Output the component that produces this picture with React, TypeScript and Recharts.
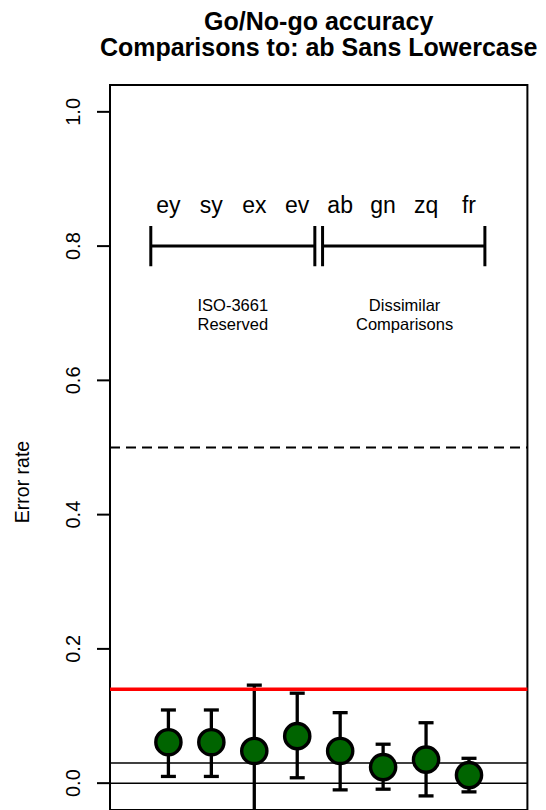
import React from 'react';
import {
  ComposedChart,
  Scatter,
  ErrorBar,
  XAxis,
  YAxis,
  ReferenceLine,
  ReferenceArea,
} from 'recharts';

// Comparison pairs, plotted at positions 1..8
const codes = ['ey', 'sy', 'ex', 'ev', 'ab', 'gn', 'zq', 'fr'];
const positions = [1, 2, 3, 4, 5, 6, 7, 8];

// Mean error rate and 95% interval for each comparison
const errorRate = [0.061, 0.061, 0.048, 0.07, 0.048, 0.024, 0.035, 0.012];
const ciLow = [0.01, 0.01, -0.05, 0.008, -0.01, -0.009, -0.019, -0.013];
const ciHigh = [0.109, 0.109, 0.146, 0.134, 0.105, 0.058, 0.09, 0.037];

const yTicks = [0, 0.2, 0.4, 0.6, 0.8, 1.0];

// Reference levels
const chanceLevel = 0.5;
const thresholdRate = 0.14;
const baselineRate = 0.03;
const zeroRate = 0;

// Group brackets
const groupNames = [
  ['ISO-3661', 'Reserved'],
  ['Dissimilar', 'Comparisons'],
];
const groupFrom = [0.59, 4.59];
const groupTo = [4.41, 8.37];
const groupCenter = [2.5, 6.5];
const bracketLevel = 0.8;
const bracketTick = 0.03;
const codeLabelLevel = 0.849;
const groupLabelLevel = 0.703;

const FONT = '"Liberation Sans", Arial, Helvetica, sans-serif';

const points = positions.map((x, i) => ({
  x,
  y: errorRate[i],
  err: [errorRate[i] - ciLow[i], ciHigh[i] - errorRate[i]],
}));

const codeLabels = positions.map((x, i) => ({ x, y: codeLabelLevel, label: codes[i] }));

const groupLabels = groupCenter.map((x, i) => ({ x, y: groupLabelLevel, lines: groupNames[i] }));

const YTick = (props: any) => {
  const { x, y, payload } = props;
  const bx = x - 15;
  return (
    <text
      x={bx}
      y={y}
      transform={`rotate(-90 ${bx} ${y})`}
      textAnchor="middle"
      fontSize={20}
      fontFamily={FONT}
      fill="#000"
    >
      {Number(payload.value).toFixed(1)}
    </text>
  );
};

const Dot = (props: any) => (
  <circle cx={props.cx} cy={props.cy} r={12.6} fill="#006400" stroke="#000" strokeWidth={3.4} />
);

const CodeText = (props: any) => (
  <text x={props.cx} y={props.cy} textAnchor="middle" fontSize={23} fontFamily={FONT} fill="#000">
    {props.payload.label}
  </text>
);

const GroupText = (props: any) => (
  <text x={props.cx} y={props.cy} textAnchor="middle" fontSize={16.5} fontFamily={FONT} fill="#000">
    {props.payload.lines.map((l: string, i: number) => (
      <tspan key={i} x={props.cx} dy={i === 0 ? 0 : 19}>
        {l}
      </tspan>
    ))}
  </text>
);

export default function App() {
  return (
    <div
      style={{
        position: 'absolute',
        left: 0,
        top: 0,
        width: 546,
        height: 810,
        overflow: 'hidden',
        background: '#fff',
      }}
    >
      <ComposedChart width={546} height={830} margin={{ top: 85, right: 18.6, bottom: 20, left: 50 }}>
        <XAxis type="number" dataKey="x" domain={[-0.36, 9.36]} allowDataOverflow hide />
        <YAxis
          type="number"
          dataKey="y"
          domain={[-0.04, 1.04]}
          allowDataOverflow
          ticks={yTicks}
          width={60}
          axisLine={false}
          tickSize={13}
          tickLine={{ stroke: '#000', strokeWidth: 2 }}
          tick={<YTick />}
        />
        <ReferenceArea
          x1={-0.36}
          x2={9.36}
          y1={-0.04}
          y2={1.04}
          fill="none"
          fillOpacity={0}
          stroke="#000"
          strokeWidth={2}
          ifOverflow="visible"
        />
        <ReferenceLine y={chanceLevel} stroke="#000" strokeWidth={2} strokeDasharray="10 6" />

        {groupFrom.map((from, i) => (
          <ReferenceLine
            key={`h${i}`}
            segment={[
              { x: from, y: bracketLevel },
              { x: groupTo[i], y: bracketLevel },
            ]}
            stroke="#000"
            strokeWidth={3}
            ifOverflow="visible"
          />
        ))}
        {groupFrom.map((from, i) => (
          <ReferenceLine
            key={`l${i}`}
            segment={[
              { x: from, y: bracketLevel - bracketTick },
              { x: from, y: bracketLevel + bracketTick },
            ]}
            stroke="#000"
            strokeWidth={3}
            ifOverflow="visible"
          />
        ))}
        {groupTo.map((to, i) => (
          <ReferenceLine
            key={`r${i}`}
            segment={[
              { x: to, y: bracketLevel - bracketTick },
              { x: to, y: bracketLevel + bracketTick },
            ]}
            stroke="#000"
            strokeWidth={3}
            ifOverflow="visible"
          />
        ))}

        <Scatter data={codeLabels} shape={<CodeText />} isAnimationActive={false} />
        <Scatter data={groupLabels} shape={<GroupText />} isAnimationActive={false} />

        <Scatter data={points} shape={<Dot />} isAnimationActive={false}>
          <ErrorBar dataKey="err" direction="y" width={7.5} strokeWidth={3.3} stroke="#000" />
        </Scatter>

        <ReferenceLine y={thresholdRate} stroke="#ff0000" strokeWidth={3.5} />
        <ReferenceLine y={baselineRate} stroke="#000" strokeWidth={1.5} />
        <ReferenceLine y={zeroRate} stroke="#000" strokeWidth={1.5} />
      </ComposedChart>

      <svg
        width={546}
        height={810}
        style={{ position: 'absolute', left: 0, top: 0, pointerEvents: 'none' }}
      >
        <text x={318.7} y={29.5} textAnchor="middle" fontSize={25} fontWeight="bold" fontFamily={FONT}>
          Go/No-go accuracy
        </text>
        <text x={318.7} y={55.5} textAnchor="middle" fontSize={25} fontWeight="bold" fontFamily={FONT}>
          Comparisons to: ab Sans Lowercase
        </text>
        <text
          x={28.5}
          y={482}
          transform="rotate(-90 28.5 482)"
          textAnchor="middle"
          fontSize={19.5}
          fontFamily={FONT}
        >
          Error rate
        </text>
      </svg>
    </div>
  );
}
